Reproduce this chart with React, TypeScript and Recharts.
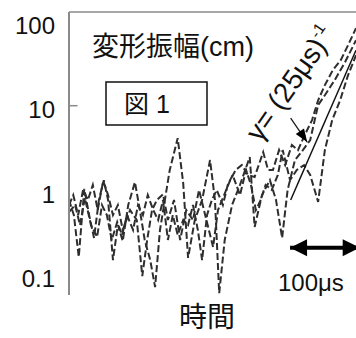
import React from 'react'
import { LineChart, Line, XAxis, YAxis, ReferenceLine } from 'recharts'

// time in µs, amplitude in cm (log scale)
const timeA = [0, 8, 16, 25, 33, 41, 49, 57, 64, 72, 80, 88, 97, 108, 116, 124, 133, 141, 149, 157, 165, 178, 187, 195, 206, 218, 231, 239, 246, 255, 267, 280, 296, 304, 316, 329, 339, 349, 358, 370, 383, 395, 408, 419, 435, 452, 470]
const ampA = [0.77, 0.51, 0.163, 1.04, 0.51, 0.274, 0.77, 1.32, 0.77, 0.15, 0.389, 0.252, 0.67, 1.25, 0.585, 0.259, 0.15, 0.072, 0.34, 0.77, 1.74, 4.14, 1.22, 0.159, 0.446, 0.77, 2.28, 0.77, 0.061, 0.259, 0.67, 1.16, 2.47, 0.369, 0.88, 1.32, 0.77, 0.274, 1.01, 2.28, 2.99, 3.93, 10.2, 13.3, 20.0, 32.7, 59.4]

const timeB = [0, 7, 15, 23, 31, 39, 47, 56, 64, 72, 80, 88, 100, 111, 120, 128, 136, 144, 154, 162, 172, 182, 192, 203, 213, 223, 236, 244, 254, 264, 273, 283, 293, 304, 318, 326, 334, 344, 354, 365, 375, 386, 398, 408, 419, 432, 445, 457, 470]
const ampB = [0.67, 0.88, 0.51, 1.01, 0.77, 1.16, 0.585, 1.29, 0.88, 0.51, 0.67, 0.34, 0.585, 0.446, 0.097, 0.259, 0.585, 0.77, 0.9, 0.446, 0.77, 0.259, 0.585, 0.446, 1.01, 0.51, 0.214, 0.585, 0.88, 1.32, 1.74, 1.99, 1.52, 1.44, 2.83, 1.74, 1.74, 2.99, 1.99, 3.43, 2.99, 4.5, 6.76, 11.6, 17.5, 26.3, 34.5, 51.9, 82.4]

const timeC = [0, 10, 18, 26, 36, 46, 54, 62, 70, 79, 87, 95, 105, 113, 121, 129, 138, 146, 154, 162, 170, 178, 187, 195, 203, 211, 218, 226, 234, 242, 252, 260, 268, 280, 290, 298, 306, 314, 322, 332, 342, 350, 362, 373, 385, 395, 408, 419, 431, 444, 457, 470]
const ampC = [0.555, 0.67, 0.389, 0.81, 0.389, 0.281, 0.67, 0.51, 0.259, 0.423, 0.297, 0.51, 0.34, 0.67, 0.51, 0.88, 0.585, 0.446, 0.77, 0.259, 0.51, 0.297, 0.446, 0.389, 0.67, 0.34, 0.15, 0.51, 0.77, 1.01, 0.67, 1.16, 1.52, 0.88, 1.74, 1.16, 0.585, 0.77, 1.16, 1.01, 1.52, 2.99, 1.32, 1.74, 1.99, 1.52, 0.73, 2.99, 6.76, 11.6, 23.0, 39.5]

// growth-rate fit  γ = (25µs)^-1
const fitTime = [363, 470]
const fitAmp = [0.77, 45.3]

// arrow pointing at the fit
const pointerTime = [363, 390]
const pointerAmp = [7.13, 3.72]

// 100µs scale bar
const scaleTime = [362, 476]
const scaleAmp = [0.21, 0.21]

const yTicks = [0.1, 1, 10, 100]

const rows = (t: number[], a: number[]) => t.map((time, i) => ({ time, amp: a[i] }))

const latin = "'Liberation Sans', Arial, 'Noto Sans CJK JP', sans-serif"
const axisGray = '#8a8a8a'
const dashColor = '#2e2e2e'

const YTick = ({ x, y, payload }: any) => (
  <text x={x} y={y + 4} textAnchor="end" dominantBaseline="central" fontSize={24} fontFamily={latin} fill="#111">
    {String(payload.value)}
  </text>
)

const scaleHead = ({ cx, cy, index }: any) => {
  const dir = index === 0 ? 1 : -1
  return (
    <polygon
      key={`s-${index}`}
      points={`${cx},${cy} ${cx + dir * 17},${cy - 8.5} ${cx + dir * 17},${cy + 8.5}`}
      fill="#000"
    />
  )
}

const pointerHead = ({ cx, cy, index }: any) => {
  if (index === 0) return <g key={`p-${index}`} />
  return (
    <polygon
      key={`p-${index}`}
      points={`${cx},${cy} ${cx - 13},${cy - 5} ${cx - 13},${cy + 5}`}
      transform={`rotate(56 ${cx} ${cy})`}
      fill="#000"
    />
  )
}

export default function App() {
  return (
    <div style={{ position: 'absolute', left: 0, top: 0, width: 356, height: 338, background: '#fff' }}>
      <LineChart width={356} height={338} margin={{ top: 12, right: 0, left: 0, bottom: 43 }}>
        <XAxis
          dataKey="time"
          type="number"
          domain={[0, 470]}
          allowDataOverflow
          height={0}
          tick={false}
          tickLine={false}
          axisLine={{ stroke: axisGray, strokeWidth: 2 }}
        />
        <YAxis
          dataKey="amp"
          scale="log"
          domain={[0.058, 128]}
          allowDataOverflow
          ticks={yTicks}
          width={69}
          tickLine={false}
          tickSize={12}
          tick={<YTick />}
          axisLine={{ stroke: axisGray, strokeWidth: 2 }}
        />
        <ReferenceLine y={128} stroke={axisGray} strokeWidth={1.5} ifOverflow="visible" />
        <ReferenceLine segment={[{ x: 0, y: 10 }, { x: 14, y: 10 }]} stroke={axisGray} strokeWidth={1.5} />

        <Line data={rows(timeA, ampA)} dataKey="amp" type="linear" stroke={dashColor} strokeWidth={2} strokeDasharray="7 3" dot={false} isAnimationActive={false} />
        <Line data={rows(timeB, ampB)} dataKey="amp" type="linear" stroke={dashColor} strokeWidth={2} strokeDasharray="7 3" dot={false} isAnimationActive={false} />
        <Line data={rows(timeC, ampC)} dataKey="amp" type="linear" stroke={dashColor} strokeWidth={2} strokeDasharray="7 3" dot={false} isAnimationActive={false} />

        <Line data={rows(fitTime, fitAmp)} dataKey="amp" type="linear" stroke="#111" strokeWidth={1.5} dot={false} isAnimationActive={false} />
        <Line data={rows(pointerTime, pointerAmp)} dataKey="amp" type="linear" stroke="#111" strokeWidth={1.2} dot={pointerHead} isAnimationActive={false} />
        <Line data={rows(scaleTime, scaleAmp)} dataKey="amp" type="linear" stroke="#000" strokeWidth={4} dot={scaleHead} isAnimationActive={false} />
      </LineChart>

      <svg width={356} height={338} style={{ position: 'absolute', left: 0, top: 0, pointerEvents: 'none' }}>
        <text x={92} y={47} dominantBaseline="central" fontSize={27} fontFamily={latin} fill="#111">
          変形振幅(cm)
        </text>
        <rect x={106} y={82} width={101} height={43} fill="#fff" stroke="#111" strokeWidth={1.5} />
        <text x={147} y={104} textAnchor="middle" dominantBaseline="central" fontSize={25} fontFamily={latin} fill="#111">
          図 1
        </text>
        <text x={260} y={143} fontSize={28} fontFamily={latin} fill="#111" transform="rotate(-55 260 143)">
          γ= (25μs)<tspan dy={-12} fontSize={16}>-1</tspan>
        </text>
        <text x={278} y={282} dominantBaseline="central" fontSize={24} fontFamily={latin} fill="#111">
          100μs
        </text>
        <text x={207} y={317} textAnchor="middle" dominantBaseline="central" fontSize={28} fontFamily={latin} fill="#111">
          時間
        </text>
      </svg>
    </div>
  )
}
